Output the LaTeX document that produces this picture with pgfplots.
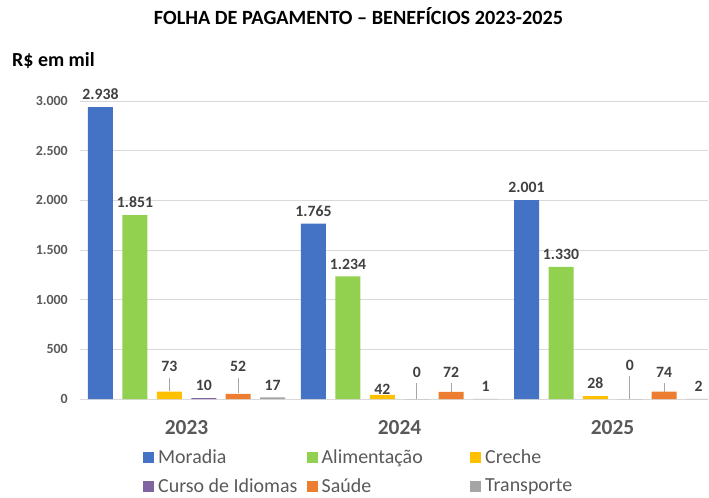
\documentclass[border=0pt]{standalone}
\usepackage{pgfplots}
\pgfplotsset{compat=1.18}
\usepackage{fontspec}
\setmainfont{Carlito}
\definecolor{cMor}{HTML}{4472C4}
\definecolor{cAli}{HTML}{92D050}
\definecolor{cCre}{HTML}{FFC000}
\definecolor{cCur}{HTML}{8064A2}
\definecolor{cSau}{HTML}{ED7D31}
\definecolor{cTra}{HTML}{A5A5A5}
\definecolor{txt}{HTML}{595959}
\definecolor{lbl}{HTML}{404040}
\definecolor{grd}{HTML}{D9D9D9}
\definecolor{lead}{HTML}{A6A6A6}
\begin{document}
\begin{tikzpicture}
\path[use as bounding box] (-80bp,-99bp) rectangle (629bp,399bp);
\begin{axis}[
  at={(0,0)}, anchor=south west,
  scale only axis, width=628bp, height=298bp,
  xmin=-0.5, xmax=2.448, ymin=0, ymax=3000,
  ybar, bar width=0.1174,
  xtick={0,1,2}, xticklabels={2023,2024,2025},
  ytick={0,500,...,3000},
  ymajorgrids, grid style={grd, line width=0.75bp},
  axis line style={draw=none},
  major tick length=0pt,
  /pgf/number format/1000 sep={.},
  /pgf/number format/assume math mode=true,
  yticklabel style={font=\bfseries\fontsize{14}{14}\selectfont, text=txt, anchor=east, inner sep=0pt, xshift=-12bp},
  xticklabel style={font=\bfseries\fontsize{21.5}{21.5}\selectfont, text=txt, anchor=base, inner sep=0pt, yshift=-35bp},
  visualization depends on={\thisrow{dy} \as \dy},
  nodes near coords,
  nodes near coords style={font=\bfseries\fontsize{15.8}{15.8}\selectfont, text=lbl, anchor=south, inner sep=0pt, yshift={(7+\dy)*1bp}},
  clip=false,
  legend columns=3,
  legend style={at={(0.1003,-0.17)}, anchor=north west, draw=none, fill=none, inner sep=0pt,
    font=\fontsize{20}{20}\selectfont, text=txt, nodes={inner sep=0pt, anchor=west}, row sep=13.5bp},
  legend cell align=left,
  every axis plot post/.append style={legend image code/.code={\fill[##1] (0bp,-5.5bp) rectangle (11bp,5.5bp);}},
]
\addplot[fill=cMor, draw=none, bar shift=-0.404] table {
x y dy
0 2938 0
1 1765 0
2 2001 0
};
\addlegendentry{\makebox[152.5bp][l]{\hspace{4bp}Moradia}}
\addplot[fill=cAli, draw=none, bar shift=-0.242] table {
x y dy
0 1851 0
1 1234 0
2 1330 0
};
\addlegendentry{\makebox[152.5bp][l]{\hspace{4bp}Alimentação}}
\addplot[fill=cCre, draw=none, bar shift=-0.081] table {
x y dy
0 73 12.7
1 42 -7
2 28 0
};
\addlegendentry{\makebox[152.5bp][l]{\hspace{4bp}Creche}}
\addplot[fill=cCur, draw=none, bar shift=0.081] table {
x y dy
0 10 0
1 0 14.3
2 0 21
};
\addlegendentry{\makebox[152.5bp][l]{\hspace{4bp}Curso de Idiomas}}
\addplot[fill=cSau, draw=none, bar shift=0.242] table {
x y dy
0 52 14.8
1 72 7
2 74 7
};
\addlegendentry{\makebox[152.5bp][l]{\hspace{4bp}Saúde}}
\addplot[fill=cTra, draw=none, bar shift=0.404] table {
x y dy
0 17 0
1 1 0
2 2 0
};
\addlegendentry{\makebox[152.5bp][l]{\hspace{4bp}Transporte}}
\draw[lead, line width=0.75bp] (axis cs:-0.081,80) -- (axis cs:-0.081,215);
\draw[lead, line width=0.75bp] (axis cs:0.242,59) -- (axis cs:0.242,211);
\draw[lead, line width=0.75bp] (axis cs:1.081,0) -- (axis cs:1.081,161);
\draw[lead, line width=0.75bp] (axis cs:1.242,72) -- (axis cs:1.242,161);
\draw[lead, line width=0.75bp] (axis cs:2.081,0) -- (axis cs:2.081,231);
\draw[lead, line width=0.75bp] (axis cs:2.242,74) -- (axis cs:2.242,161);
\end{axis}
\node[anchor=base, font=\bfseries\fontsize{20.3}{20.3}\selectfont, inner sep=0pt] at (278.5bp,374bp) {FOLHA DE PAGAMENTO – BENEFÍCIOS 2023-2025};
\node[anchor=base west, font=\bfseries\fontsize{20}{20}\selectfont, inner sep=0pt] at (-68bp,332bp) {R\$ em mil};
\end{tikzpicture}
\end{document}
